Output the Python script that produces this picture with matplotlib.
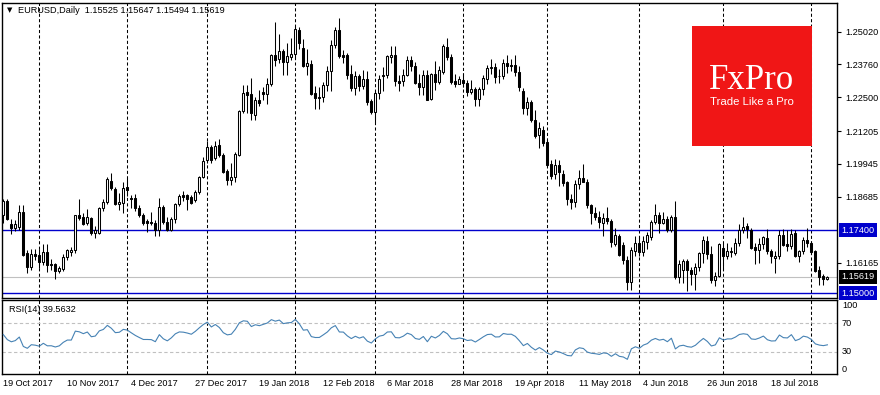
import numpy as np
import pandas as pd
import matplotlib
matplotlib.use("Agg")
import matplotlib.pyplot as plt
from matplotlib.patches import Rectangle

plt.rcParams['font.family'] = ['Liberation Sans', 'DejaVu Sans']

# EURUSD daily bars, 19 Oct 2017 .. 7 Aug 2018
opens = [
    1.1798, 1.1853, 1.1766, 1.1750, 1.1752, 1.1810, 1.1653, 1.1600, 1.1648,
    1.1647, 1.1619, 1.1657, 1.1612, 1.1610, 1.1584, 1.1593, 1.1638, 1.1657, 1.1664, 1.1798, 1.1792, 1.1769, 1.1786, 1.1731, 1.1731, 1.1824, 1.1850, 1.1931, 1.1898, 1.1840, 1.1846,
    1.1907, 1.1866, 1.1865, 1.1827, 1.1798, 1.1775, 1.1772, 1.1770, 1.1741, 1.1828, 1.1773, 1.1741, 1.1782, 1.1841, 1.1875, 1.1875, 1.1869, 1.1856, 1.1886, 1.1946,
    1.2010, 1.2061, 1.2016, 1.2068, 1.2029, 1.1969, 1.1935, 1.1946, 1.2030, 1.2196, 1.2269, 1.2262, 1.2183, 1.2240, 1.2270, 1.2262, 1.2301, 1.2411, 1.2397, 1.2429, 1.2385, 1.2403,
    1.2416, 1.2510, 1.2439, 1.2369, 1.2379, 1.2266, 1.2252, 1.2250, 1.2296, 1.2352, 1.2450, 1.2510, 1.2411, 1.2411, 1.2339, 1.2285, 1.2332, 1.2292, 1.2321, 1.2237,
    1.2193, 1.2266, 1.2333, 1.2337, 1.2405, 1.2413, 1.2311, 1.2313, 1.2337, 1.2394, 1.2371, 1.2304, 1.2289, 1.2337, 1.2243, 1.2340, 1.2307, 1.2346, 1.2443, 1.2405, 1.2311, 1.2301,
    1.2317, 1.2305, 1.2272, 1.2281, 1.2243, 1.2281, 1.2320, 1.2362, 1.2366, 1.2333, 1.2330, 1.2381, 1.2375, 1.2375, 1.2349, 1.2276, 1.2208, 1.2234, 1.2163, 1.2105, 1.2125,
    1.2078, 1.1993, 1.1958, 1.1990, 1.1956, 1.1926, 1.1862, 1.1849, 1.1916, 1.1942, 1.1926, 1.1837, 1.1805, 1.1792, 1.1770, 1.1789, 1.1775, 1.1689, 1.1719, 1.1683, 1.1625, 1.1542, 1.1661,
    1.1692, 1.1657, 1.1696, 1.1715, 1.1772, 1.1798, 1.1770, 1.1782, 1.1743, 1.1792, 1.1563, 1.1587, 1.1621, 1.1587, 1.1574, 1.1600, 1.1653, 1.1701, 1.1648, 1.1548, 1.1565,
    1.1673, 1.1640, 1.1657, 1.1655, 1.1692, 1.1740, 1.1755, 1.1743, 1.1676, 1.1666, 1.1686, 1.1712, 1.1660, 1.1635, 1.1642, 1.1722, 1.1688, 1.1681, 1.1730, 1.1640, 1.1661, 1.1705,
    1.1692, 1.1660, 1.1587, 1.1565, 1.15525,
]
highs = [
    1.1861, 1.1860, 1.1785, 1.1780, 1.1836, 1.1838, 1.1665, 1.1668, 1.1668,
    1.1670, 1.1688, 1.1688, 1.1630, 1.1615, 1.1605, 1.1650, 1.1670, 1.1675, 1.1800, 1.1861, 1.1805, 1.1821, 1.1790, 1.1758, 1.1830, 1.1860, 1.1946, 1.1960, 1.1905, 1.1882, 1.1927,
    1.1940, 1.1875, 1.1880, 1.1837, 1.1805, 1.1785, 1.1810, 1.1780, 1.1865, 1.1838, 1.1790, 1.1790, 1.1845, 1.1880, 1.1892, 1.1880, 1.1875, 1.1895, 1.1950, 1.2023,
    1.2082, 1.2068, 1.2081, 1.2090, 1.2035, 1.1975, 1.2000, 1.2040, 1.2203, 1.2297, 1.2296, 1.2323, 1.2250, 1.2280, 1.2290, 1.2323, 1.2415, 1.2540, 1.2493, 1.2436, 1.2457, 1.2478,
    1.2523, 1.2518, 1.2475, 1.2435, 1.2395, 1.2294, 1.2290, 1.2310, 1.2370, 1.2470, 1.2520, 1.2555, 1.2430, 1.2420, 1.2375, 1.2350, 1.2340, 1.2355, 1.2350, 1.2245,
    1.2273, 1.2335, 1.2365, 1.2412, 1.2446, 1.2446, 1.2335, 1.2360, 1.2410, 1.2410, 1.2385, 1.2340, 1.2355, 1.2355, 1.2345, 1.2388, 1.2370, 1.2455, 1.2477, 1.2415, 1.2338, 1.2330,
    1.2345, 1.2318, 1.2318, 1.2290, 1.2291, 1.2337, 1.2375, 1.2397, 1.2380, 1.2360, 1.2396, 1.2414, 1.2397, 1.2413, 1.2370, 1.2284, 1.2250, 1.2241, 1.2200, 1.2155, 1.2140,
    1.2085, 1.2010, 1.2012, 1.2010, 1.1970, 1.1930, 1.1880, 1.1935, 1.1970, 1.1995, 1.1937, 1.1840, 1.1830, 1.1815, 1.1807, 1.1830, 1.1785, 1.1750, 1.1726, 1.1697, 1.1640, 1.1675, 1.1720,
    1.1718, 1.1720, 1.1735, 1.1780, 1.1840, 1.1810, 1.1810, 1.1796, 1.1800, 1.1852, 1.1625, 1.1630, 1.1630, 1.1600, 1.1615, 1.1658, 1.1720, 1.1720, 1.1680, 1.1580, 1.1690,
    1.1690, 1.1690, 1.1675, 1.1710, 1.1765, 1.1790, 1.1770, 1.1750, 1.1690, 1.1710, 1.1720, 1.1745, 1.1670, 1.1660, 1.1740, 1.1745, 1.1740, 1.1745, 1.1740, 1.1665, 1.1715, 1.1750,
    1.1700, 1.1665, 1.1605, 1.1572, 1.15647,
]
lows = [
    1.1770, 1.1780, 1.1728, 1.1738, 1.1740, 1.1640, 1.1575, 1.1590, 1.1626,
    1.1594, 1.1606, 1.1580, 1.1590, 1.1555, 1.1575, 1.1585, 1.1625, 1.1640, 1.1655, 1.1780, 1.1760, 1.1762, 1.1722, 1.1712, 1.1725, 1.1815, 1.1840, 1.1895, 1.1838, 1.1818, 1.1808,
    1.1870, 1.1827, 1.1815, 1.1790, 1.1760, 1.1734, 1.1760, 1.1718, 1.1718, 1.1765, 1.1738, 1.1738, 1.1770, 1.1835, 1.1852, 1.1820, 1.1840, 1.1848, 1.1880, 1.1940,
    1.2000, 1.2000, 1.2010, 1.2020, 1.1960, 1.1915, 1.1915, 1.1925, 1.2025, 1.2190, 1.2190, 1.2165, 1.2165, 1.2215, 1.2240, 1.2225, 1.2295, 1.2370, 1.2380, 1.2336, 1.2335, 1.2393,
    1.2400, 1.2435, 1.2366, 1.2335, 1.2260, 1.2205, 1.2206, 1.2231, 1.2273, 1.2274, 1.2440, 1.2400, 1.2380, 1.2320, 1.2275, 1.2260, 1.2275, 1.2283, 1.2220, 1.2185,
    1.2155, 1.2245, 1.2275, 1.2325, 1.2380, 1.2295, 1.2275, 1.2293, 1.2330, 1.2350, 1.2300, 1.2260, 1.2260, 1.2240, 1.2240, 1.2280, 1.2300, 1.2340, 1.2395, 1.2300, 1.2288, 1.2300,
    1.2290, 1.2255, 1.2262, 1.2215, 1.2215, 1.2260, 1.2303, 1.2340, 1.2305, 1.2305, 1.2322, 1.2343, 1.2350, 1.2330, 1.2275, 1.2185, 1.2182, 1.2155, 1.2095, 1.2055, 1.2065,
    1.1985, 1.1937, 1.1938, 1.1911, 1.1910, 1.1838, 1.1823, 1.1830, 1.1900, 1.1925, 1.1825, 1.1763, 1.1780, 1.1750, 1.1718, 1.1765, 1.1677, 1.1680, 1.1640, 1.1610, 1.1510, 1.1512, 1.1640,
    1.1640, 1.1640, 1.1670, 1.1705, 1.1765, 1.1730, 1.1765, 1.1735, 1.1735, 1.1555, 1.1540, 1.1540, 1.1508, 1.1530, 1.1510, 1.1585, 1.1615, 1.1630, 1.1540, 1.1525, 1.1560,
    1.1590, 1.1630, 1.1638, 1.1645, 1.1680, 1.1730, 1.1710, 1.1667, 1.1610, 1.1615, 1.1670, 1.1650, 1.1615, 1.1575, 1.1630, 1.1680, 1.1660, 1.1670, 1.1637, 1.1620, 1.1650, 1.1675,
    1.1650, 1.1580, 1.1530, 1.1530, 1.15494,
]
closes = [
    1.1853, 1.1784, 1.1750, 1.1765, 1.1812, 1.1645, 1.1600, 1.1650, 1.1640,
    1.1619, 1.1657, 1.1607, 1.1608, 1.1584, 1.1597, 1.1638, 1.1666, 1.1666, 1.1798, 1.1789, 1.1766, 1.1792, 1.1731, 1.1741, 1.1824, 1.1850, 1.1936, 1.1901, 1.1843, 1.1850, 1.1904,
    1.1895, 1.1861, 1.1827, 1.1798, 1.1770, 1.1770, 1.1768, 1.1741, 1.1828, 1.1773, 1.1743, 1.1782, 1.1841, 1.1872, 1.1869, 1.1859, 1.1846, 1.1886, 1.1943, 1.2006,
    1.2061, 1.2010, 1.2064, 1.2030, 1.1965, 1.1935, 1.1946, 1.2033, 1.2198, 1.2266, 1.2260, 1.2189, 1.2240, 1.2227, 1.2262, 1.2301, 1.2411, 1.2392, 1.2429, 1.2385, 1.2407, 1.2416,
    1.2513, 1.2459, 1.2369, 1.2380, 1.2264, 1.2247, 1.2248, 1.2296, 1.2352, 1.2450, 1.2510, 1.2407, 1.2405, 1.2337, 1.2285, 1.2330, 1.2295, 1.2321, 1.2234, 1.2193,
    1.2266, 1.2320, 1.2337, 1.2407, 1.2411, 1.2311, 1.2306, 1.2337, 1.2394, 1.2371, 1.2304, 1.2289, 1.2337, 1.2240, 1.2340, 1.2307, 1.2356, 1.2448, 1.2405, 1.2307, 1.2301, 1.2320,
    1.2305, 1.2272, 1.2281, 1.2243, 1.2281, 1.2324, 1.2362, 1.2368, 1.2328, 1.2330, 1.2381, 1.2371, 1.2372, 1.2346, 1.2289, 1.2208, 1.2234, 1.2163, 1.2102, 1.2131, 1.2076,
    1.1990, 1.1949, 1.1990, 1.1965, 1.1920, 1.1862, 1.1849, 1.1916, 1.1942, 1.1926, 1.1837, 1.1805, 1.1792, 1.1773, 1.1788, 1.1775, 1.1696, 1.1721, 1.1647, 1.1625, 1.1542, 1.1664, 1.1692,
    1.1657, 1.1700, 1.1721, 1.1772, 1.1798, 1.1770, 1.1782, 1.1743, 1.1792, 1.1563, 1.1610, 1.1621, 1.1587, 1.1574, 1.1600, 1.1653, 1.1705, 1.1648, 1.1548, 1.1565, 1.1687,
    1.1640, 1.1661, 1.1661, 1.1692, 1.1740, 1.1753, 1.1744, 1.1673, 1.1666, 1.1686, 1.1714, 1.1660, 1.1640, 1.1642, 1.1722, 1.1685, 1.1681, 1.1728, 1.1640, 1.1661, 1.1705, 1.1692,
    1.1657, 1.1585, 1.1563, 1.1553, 1.15619,
]
# closes of the 14 sessions before the first bar, only used to seed RSI(14)
closes_before = [1.1813, 1.1734, 1.1744, 1.1762, 1.1708, 1.1731, 1.1736,
                 1.1809, 1.1863, 1.1822, 1.1822, 1.1795, 1.1765, 1.1790]

levels = [1.17400, 1.15000]
last_price = 1.15619
price_ticks = [1.25020, 1.23760, 1.22500, 1.21205, 1.19945, 1.18685, 1.16165]
rsi_ticks = [100, 70, 30, 0]
header = "EURUSD,Daily  1.15525 1.15647 1.15494 1.15619"
rsi_title = "RSI(14) 39.5632"

dates = pd.bdate_range("2017-10-19", "2018-08-07")
dates = dates[~dates.isin(pd.to_datetime(["2017-12-25", "2018-01-01"]))]

o = np.array(opens); h = np.array(highs); l = np.array(lows); c = np.array(closes)
h = np.maximum(h, np.maximum(o, c))
l = np.minimum(l, np.minimum(o, c))
x = np.arange(len(c))

# RSI(14), Wilder smoothing
allc = np.array(closes_before + closes)
d = np.diff(allc)
g = np.clip(d, 0, None); ls = np.clip(-d, 0, None)
ag, al = g[:14].mean(), ls[:14].mean()
rsi = [100 * ag / (ag + al)]
for gi, li in zip(g[14:], ls[14:]):
    ag = (ag * 13 + gi) / 14
    al = (al * 13 + li) / 14
    rsi.append(100 * ag / (ag + al))
rsi = np.array(rsi)

W, H = 880, 395
def rect(x0, y0, x1, y1):
    return [x0 / W, 1 - y1 / H, (x1 - x0) / W, (y1 - y0) / H]

fig = plt.figure(figsize=(W / 100, H / 100), dpi=100)
ax = fig.add_axes(rect(2, 2.5, 837, 297.5))
ax2 = fig.add_axes(rect(2, 300, 837, 373.5))

xmin, xmax = -0.33, 208.4
blue = '#0000CC'
sep_style = (0, (3.0, 2.2))

# month separators
month_starts = [i for i in range(1, len(dates)) if dates[i].month != dates[i - 1].month]
for a in (ax, ax2):
    for i in month_starts:
        a.axvline(i, color='black', lw=0.75, ls=sep_style, zorder=1)
    a.set_xlim(xmin, xmax)
    a.set_xticks([])
    for s in a.spines.values():
        s.set_linewidth(1.0)
        s.set_color('black')

# price panel
for lv in levels:
    ax.axhline(lv, color=blue, lw=1.0, zorder=2)
ax.axhline(last_price, color='#C0C0C0', lw=0.8, zorder=2)

ax.vlines(x, l, h, color='black', lw=0.75, zorder=3)
up = c >= o
body_h = np.maximum(np.abs(c - o), 0.00006)
ax.bar(x[up], body_h[up], bottom=o[up], width=0.55, color='white',
       edgecolor='black', linewidth=0.75, zorder=4)
ax.bar(x[~up], body_h[~up], bottom=c[~up], width=0.55, color='black',
       edgecolor='black', linewidth=0.75, zorder=4)

ax.set_ylim(1.14828, 1.26135)
ax.yaxis.tick_right()
ax.set_yticks(price_ticks)
ax.set_yticklabels([f"{v:.5f}" for v in price_ticks])
ax.tick_params(axis='y', direction='out', length=3, width=0.8, labelsize=6.6, pad=3)

ytr = ax.get_yaxis_transform()
for lv, fc in [(levels[0], blue), (last_price, 'black'), (levels[1], blue)]:
    ax.text(1.0055, lv, f"{lv:.5f}", transform=ytr, ha='left', va='center',
            fontsize=6.6, color='white', clip_on=False,
            bbox=dict(boxstyle='square,pad=0.28', fc=fc, ec='none'))

fig.text(7 / W, 1 - 10.5 / H, "\u25bc", fontsize=5, family='DejaVu Sans',
         va='center', ha='left', color='black')
fig.text(18 / W, 1 - 10.5 / H, header, fontsize=6.6, va='center', ha='left',
         color='black')

# FxPro badge
ax.add_patch(Rectangle((692 / W, 1 - 145.7 / H), 119.7 / W, 119.7 / H,
                       transform=fig.transFigure, fc='#F01616', ec='none',
                       zorder=6))
fig.text(752 / W, 1 - 89.3 / H, "FxPro", family='Liberation Serif', fontsize=25,
         color='white', ha='center', va='baseline', zorder=7)
fig.text(752 / W, 1 - 105 / H, "Trade Like a Pro", fontsize=8.2, color='white',
         ha='center', va='baseline', zorder=7)

# RSI panel
for lv in (30, 70):
    ax2.axhline(lv, color='#C0C0C0', lw=0.8, ls=sep_style, zorder=1)
ax2.plot(x, rsi, color='#4682B4', lw=0.8, zorder=3)
ax2.set_ylim(0, 102)
ax2.set_yticks([])
ytr2 = ax2.get_yaxis_transform()
for v in rsi_ticks:
    va = 'top' if v == 100 else ('bottom' if v == 0 else 'center')
    ax2.text(1.006, v, str(v), transform=ytr2, ha='left', va=va, fontsize=6.6,
             clip_on=False)
ax2.text(7 / 835, 1 - 9.5 / 73.5, rsi_title, transform=ax2.transAxes,
         fontsize=6.6, ha='left', va='center')

# date labels every 16 bars
xtr = ax2.get_xaxis_transform()
for i in range(0, len(dates), 16):
    dt = dates[i]
    ax2.text(i - 0.1, -10 / 73.5, f"{dt.day} {dt.strftime('%b %Y')}", transform=xtr,
             ha='left', va='center', fontsize=6.6, clip_on=False)

fig.savefig("out.png", dpi=100)
